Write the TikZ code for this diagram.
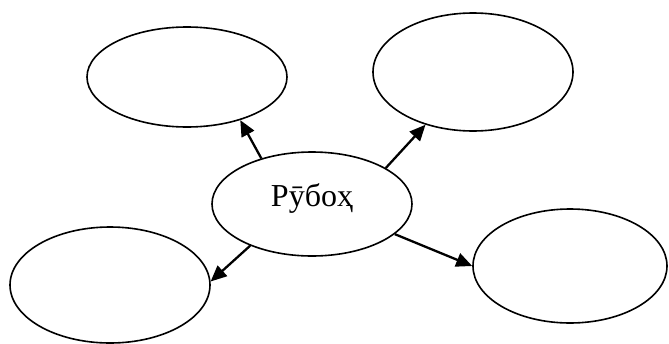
\documentclass[tikz,border=0pt]{standalone}
\usepackage{fontspec}
\setmainfont{Liberation Serif}
\usetikzlibrary{arrows.meta,positioning,shapes.geometric}
\tikzset{
  bubble/.style={ellipse, draw=black, line width=1.6pt, fill=white, inner sep=0pt,
    text=black, font=\fontsize{32}{38}\selectfont},
  linkarr/.style={-{Triangle[length=16pt,width=14pt]}, draw=black, line width=2.3pt},
}

\begin{document}
\begin{tikzpicture}[x=1pt,y=-1pt]
\useasboundingbox (0,0) rectangle (669,343);

% ---------------- central word ----------------
\node[bubble, minimum width=200pt, minimum height=104pt] (fox) at (312,204)
  {\raisebox{-2pt}[0pt][0pt]{Рӯбоҳ}};

% ---------------- empty answer bubbles ----------------
\node[bubble, minimum width=200pt, minimum height=100pt] (tl) at (187,77) {};
\node[bubble, minimum width=200pt, minimum height=118pt] (tr) at (473,72) {};
\node[bubble, minimum width=200pt, minimum height=116pt] (bl) at (110,285) {};
\node[bubble, minimum width=194pt, minimum height=114pt] (br) at (570,266) {};

% arrows leave the central bubble towards each empty one
\draw[linkarr] (fox.138) -- (tl.321);
\draw[linkarr] (fox.26) -- (tr.228);
\draw[linkarr] (fox.214) -- (bl.2);
\draw[linkarr] (fox.340) -- (br.180);

\end{tikzpicture}
\end{document}
